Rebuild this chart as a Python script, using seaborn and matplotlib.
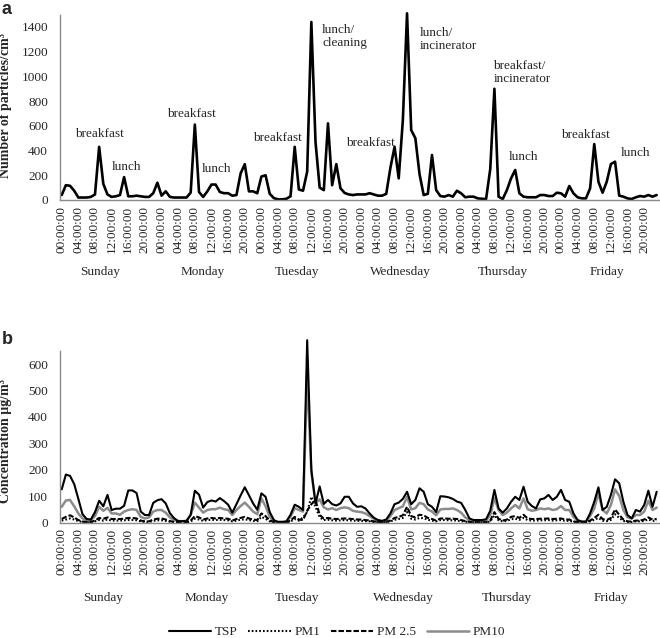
import matplotlib
matplotlib.use("Agg")
import matplotlib.pyplot as plt
import seaborn as sns
import numpy as np
import pandas as pd

# ---------------- data ----------------
hour_labels = ["00:00:00", "04:00:00", "08:00:00", "12:00:00", "16:00:00", "20:00:00"]
days = ["Sunday", "Monday", "Tuesday", "Wednesday", "Thursday", "Friday"]
day_label_pos_a = [9.2, 34.0, 56.5, 81.3, 106.0, 131.1]
day_label_pos_b = [10.0, 34.9, 56.5, 82.1, 107.1, 132.0]

particles = [
    40, 120, 115, 75, 20, 20, 20, 25, 45, 430, 130, 45, 25, 30, 40, 185, 30, 30, 35, 30, 25, 25, 55, 140,
    35, 70, 25, 20, 20, 20, 20, 60, 610, 65, 25, 70, 125, 125, 65, 55, 55, 35, 40, 215, 290, 70, 70, 55,
    190, 200, 50, 15, 5, 5, 10, 30, 430, 85, 75, 230, 1440, 470, 100, 80, 620, 120, 290, 95, 57, 45, 40, 45,
    45, 45, 55, 45, 35, 35, 50, 260, 430, 175, 650, 1510, 566, 500, 210, 40, 50, 364, 80, 32, 27, 40, 27, 75,
    54, 22, 27, 27, 13, 10, 8, 250, 900, 27, 8, 80, 175, 243, 54, 27, 22, 22, 22, 40, 40, 32, 32, 59,
    54, 27, 113, 54, 22, 13, 13, 94, 453, 148, 59, 148, 291, 310, 35, 27, 13, 8, 22, 32, 27, 40, 27, 40,
]

tsp = [
    126, 182, 177, 146, 90, 32, 14, 12, 40, 83, 62, 105, 48, 53, 53, 64, 122, 122, 112, 42, 29, 29, 75, 85,
    89, 73, 36, 17, 6, 6, 7, 30, 121, 106, 57, 78, 84, 80, 93, 82, 68, 38, 70, 103, 134, 104, 73, 49,
    111, 98, 40, 10, 2, 2, 5, 30, 68, 60, 48, 690, 200, 73, 137, 71, 86, 70, 65, 73, 98, 98, 73, 60,
    62, 54, 35, 19, 10, 7, 12, 35, 70, 76, 90, 117, 70, 86, 130, 117, 70, 60, 40, 100, 99, 96, 90, 80,
    75, 48, 16, 10, 10, 10, 13, 45, 124, 54, 38, 54, 79, 98, 86, 136, 79, 63, 54, 88, 92, 105, 86, 98,
    124, 86, 79, 35, 10, 4, 4, 35, 79, 134, 48, 60, 105, 164, 149, 79, 29, 16, 48, 42, 67, 121, 60, 117,
]

pm10 = [
    60, 84, 86, 62, 35, 16, 10, 10, 25, 60, 45, 56, 35, 35, 30, 42, 48, 51, 48, 22, 16, 20, 42, 48,
    48, 38, 20, 10, 6, 6, 6, 29, 76, 57, 38, 48, 51, 51, 57, 51, 48, 29, 48, 63, 76, 60, 42, 32,
    92, 62, 23, 6, 4, 4, 4, 23, 55, 48, 42, 560, 190, 75, 88, 58, 50, 55, 48, 55, 58, 55, 45, 42,
    40, 35, 25, 15, 8, 5, 8, 25, 48, 55, 62, 98, 50, 55, 75, 70, 50, 42, 28, 50, 52, 52, 54, 48,
    38, 20, 10, 8, 8, 8, 8, 29, 92, 48, 29, 38, 54, 67, 54, 92, 51, 45, 48, 54, 51, 54, 48, 51,
    63, 48, 48, 22, 8, 4, 4, 25, 54, 111, 48, 35, 67, 126, 101, 48, 20, 16, 29, 29, 42, 83, 48, 57,
]

pm25 = [
    14, 22, 28, 20, 10, 4, 3, 3, 8, 18, 15, 20, 14, 14, 14, 15, 18, 18, 16, 8, 5, 5, 12, 15,
    16, 12, 6, 3, 2, 2, 2, 8, 25, 20, 12, 16, 18, 16, 18, 16, 15, 8, 14, 18, 22, 16, 12, 10,
    35, 25, 8, 3, 2, 2, 2, 8, 22, 12, 10, 45, 70, 85, 30, 15, 18, 15, 14, 15, 16, 15, 14, 12,
    12, 10, 8, 5, 3, 2, 3, 8, 18, 22, 28, 60, 25, 20, 30, 28, 18, 14, 8, 16, 16, 15, 15, 14,
    10, 6, 3, 2, 2, 2, 2, 8, 40, 15, 8, 12, 22, 25, 18, 30, 16, 14, 14, 15, 15, 16, 14, 15,
    16, 12, 12, 5, 2, 2, 2, 8, 18, 30, 14, 10, 18, 50, 30, 12, 5, 4, 8, 8, 12, 20, 12, 14,
]

pm1 = [
    8, 12, 16, 12, 6, 3, 2, 2, 5, 10, 8, 12, 8, 8, 8, 9, 10, 10, 9, 5, 3, 3, 7, 9,
    9, 7, 4, 2, 1, 1, 1, 5, 15, 12, 7, 10, 11, 10, 11, 10, 9, 5, 8, 11, 13, 10, 7, 6,
    22, 15, 5, 2, 1, 1, 1, 5, 14, 8, 20, 40, 98, 60, 20, 10, 11, 9, 8, 9, 10, 9, 8, 7,
    7, 6, 5, 3, 2, 1, 2, 5, 11, 14, 18, 40, 15, 12, 18, 17, 11, 8, 5, 10, 10, 9, 9, 8,
    6, 4, 2, 1, 1, 1, 1, 5, 28, 9, 5, 7, 13, 15, 11, 18, 10, 8, 8, 9, 9, 10, 8, 9,
    10, 7, 7, 3, 1, 1, 1, 5, 11, 18, 8, 6, 11, 32, 18, 7, 3, 2, 5, 5, 7, 12, 7, 8,
]

annotations = [
    ("breakfast", 9.1, 531, "center"),
    ("lunch", 15.6, 270, "center"),
    ("breakfast", 31.25, 696, "center"),
    ("lunch", 37.3, 248, "center"),
    ("breakfast", 51.95, 504, "center"),
    ("lunch/\ncleaning", 62.6, 1323, "left"),
    ("breakfast", 74.3, 459, "center"),
    ("lunch/\nincinerator", 86.0, 1301, "left"),
    ("breakfast/\nincinerator", 103.75, 1031, "left"),
    ("lunch", 111.0, 350, "center"),
    ("breakfast", 125.9, 526, "center"),
    ("lunch", 137.8, 383, "center"),
]

hours = np.arange(len(particles))
df_a = pd.DataFrame({"hour": hours, "particles": particles})
df_b = pd.DataFrame({"hour": hours, "TSP": tsp, "PM1": pm1, "PM 2.5": pm25, "PM10": pm10})

# ---------------- style ----------------
sns.set_theme(style="white")
plt.rcParams["font.family"] = ["Liberation Serif", "DejaVu Serif"]
FS = 9.5
GRAY_AX = "#8a8a8a"

W, H = 660, 638
fig = plt.figure(figsize=(W / 100, H / 100), dpi=100)

xl = (-0.29, 143.8)
ax_left = 60.5 / W
ax_w = (660 - 60.5) / W

# top axes: baseline y=200px, top (1530) at ~10.9px
ax1 = fig.add_axes([ax_left, (H - 200) / H, ax_w, (200 - 10.9) / H])
# bottom axes: baseline y=522.7px, top (690) at ~340.2px
ax2 = fig.add_axes([ax_left, (H - 522.7) / H, ax_w, (522.7 - 340.2) / H])

sns.lineplot(data=df_a, x="hour", y="particles", ax=ax1, color="black", linewidth=1.9)

styles = {
    "TSP": dict(color="black", linewidth=1.5, linestyle="-"),
    "PM1": dict(color="black", linewidth=1.5, linestyle=(0, (0.8, 1.0))),
    "PM 2.5": dict(color="black", linewidth=1.5, linestyle=(0, (2.6, 1.0))),
    "PM10": dict(color="#8c8c8c", linewidth=1.8, linestyle="-"),
}
for name in ["PM10", "PM 2.5", "PM1", "TSP"]:
    sns.lineplot(data=df_b, x="hour", y=name, ax=ax2, label=name, clip_on=False, **styles[name])

xticks = np.arange(0, len(particles), 4)
xticklabels = [hour_labels[i % 6] for i in range(len(xticks))]

for ax, ymax, ybound, yticks in [
    (ax1, 1530, 1500, np.arange(0, 1401, 200)),
    (ax2, 690, 650, np.arange(0, 601, 100)),
]:
    ax.set_xlim(*xl)
    ax.set_ylim(0, ymax)
    ax.set_xticks(xticks)
    ax.set_xticklabels(xticklabels, rotation=90, fontsize=FS)
    ax.set_yticks(yticks)
    ax.set_yticklabels([str(v) for v in yticks], fontsize=FS)
    ax.tick_params(axis="both", length=0)
    ax.tick_params(axis="y", pad=9)
    ax.tick_params(axis="x", pad=4)
    for s in ["top", "right"]:
        ax.spines[s].set_visible(False)
    for s in ["left", "bottom"]:
        ax.spines[s].set_color(GRAY_AX)
        ax.spines[s].set_linewidth(1.0)
    ax.spines["left"].set_bounds(0, ybound)
    ax.set_xlabel("")
    ax.grid(False)

ax1.set_ylabel("Number of particles/cm³", fontsize=10, fontweight="bold")
ax1.yaxis.set_label_coords(-0.0815, 0.50)
ax2.set_ylabel("Concentration µg/m³", fontsize=10, fontweight="bold")
ax2.yaxis.set_label_coords(-0.0815, 0.45)

for txt, hx, vy, ha in annotations:
    ax1.text(hx, vy, txt, ha=ha, va="center", fontsize=FS, linespacing=1.15)

for name, hx in zip(days, day_label_pos_a):
    ax1.text(hx, -72 / 189.1, name, transform=ax1.get_xaxis_transform(),
             ha="center", va="center", fontsize=FS)
for name, hx in zip(days, day_label_pos_b):
    ax2.text(hx, -75.3 / 182.5, name, transform=ax2.get_xaxis_transform(),
             ha="center", va="center", fontsize=FS)

ax2.legend_.remove()
handles, labels = ax2.get_legend_handles_labels()
order = ["TSP", "PM1", "PM 2.5", "PM10"]
hd = dict(zip(labels, handles))
fig.legend([hd[k] for k in order], order, loc="center", bbox_to_anchor=(0.511, (H - 632) / H),
           ncol=4, frameon=False, fontsize=FS, handlelength=3.2, handletextpad=0.3,
           columnspacing=0.8, borderaxespad=0, borderpad=0)

fig.text(2 / W, 1 - 1 / H, "a", ha="left", va="top", fontsize=13, fontweight="bold",
         family=["Liberation Sans", "DejaVu Sans"])
fig.text(2 / W, 1 - 331 / H, "b", ha="left", va="top", fontsize=13, fontweight="bold",
         family=["Liberation Sans", "DejaVu Sans"])

fig.savefig("out.png", dpi=100)
